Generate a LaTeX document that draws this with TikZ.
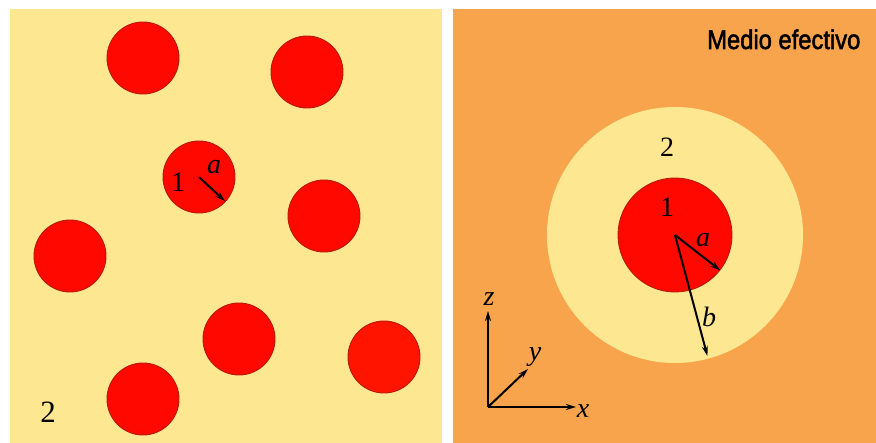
\documentclass[tikz,border=0pt]{standalone}
\usepackage{fontspec}
\setmainfont{Liberation Serif}
\newfontfamily\labelsans[FakeBold=2]{Liberation Sans}
\usetikzlibrary{arrows.meta}

\definecolor{hostyellow}{RGB}{253,232,145}
\definecolor{efforange}{RGB}{248,164,76}
\definecolor{incred}{RGB}{255,8,0}
\definecolor{rimred}{RGB}{185,25,10}

\begin{document}
\begin{tikzpicture}[
  x=1pt, y=-1pt,
  particle/.style={circle, draw=rimred, line width=0.9pt, fill=incred, minimum size=72pt, inner sep=0pt},
  shell/.style={circle, fill=hostyellow, minimum size=256pt, inner sep=0pt},
  lbl/.style={font=\fontsize{28}{28}\selectfont, inner sep=0pt},
  vec/.style={-{Stealth[length=10pt,width=6pt]}, line width=2pt}
]
  \useasboundingbox (0,0) rectangle (876,443);
  \fill[white] (0,0) rectangle (876,443);

  % left panel: inclusions in the host
  \fill[hostyellow] (10,9) rectangle (442,443);
  \node[particle] (p1) at (143,58) {};
  \node[particle] (p2) at (307,72) {};
  \node[particle] (p3) at (199,177) {};
  \node[particle] (p4) at (324,216) {};
  \node[particle] (p5) at (70,256) {};
  \node[particle] (p6) at (239,339) {};
  \node[particle, fill=incred!90!orange] (p7) at (384,357) {};
  \node[particle] (p8) at (143,399) {};
  \node[lbl] (one) at (178,182) {1};
  \node[lbl] (ra) at (214,167) {\textit{a}};
  \draw[vec, shorten >=1pt] (p3.center) -- (p3.-43);
  \node[lbl, font=\fontsize{31}{31}\selectfont] (two) at (48,412) {2};

  % right panel: effective medium
  \fill[efforange] (453,9) rectangle (876,443);
  \node[anchor=base west, inner sep=0pt, font=\labelsans\fontsize{27}{27}\selectfont] (medio) at (707,49) {\scalebox{0.88}[1]{Medio efectivo}};
  \node[shell] (shell) at (675,235) {};
  \node[particle, minimum size=114pt] (core) at (675,235) {};
  \node[lbl] (shelltwo) at (667,147) {2};
  \node[lbl] (coreone) at (667,207) {1};
  \node[lbl] (la) at (703,240) {\textit{a}};
  \node[lbl] (lb) at (709,317) {\textit{b}};
  \draw[vec] (core.center) -- (core.-38);
  \draw[vec, shorten >=3pt] (core.center) -- (shell.-75);

  % axes
  \coordinate (o) at (488,407);
  \coordinate (zt) at (488,311);
  \coordinate (xt) at (576,407);
  \coordinate (yt) at (528,369);
  \draw[vec] (o) -- (zt);
  \draw[vec] (o) -- (xt);
  \draw[vec] (o) -- (yt);
  \node[lbl] (zl) at (489,299) {\textit{z}};
  \node[lbl] (xl) at (583,411) {\textit{x}};
  \node[lbl] (yl) at (535,357) {\textit{y}};
\end{tikzpicture}
\end{document}
